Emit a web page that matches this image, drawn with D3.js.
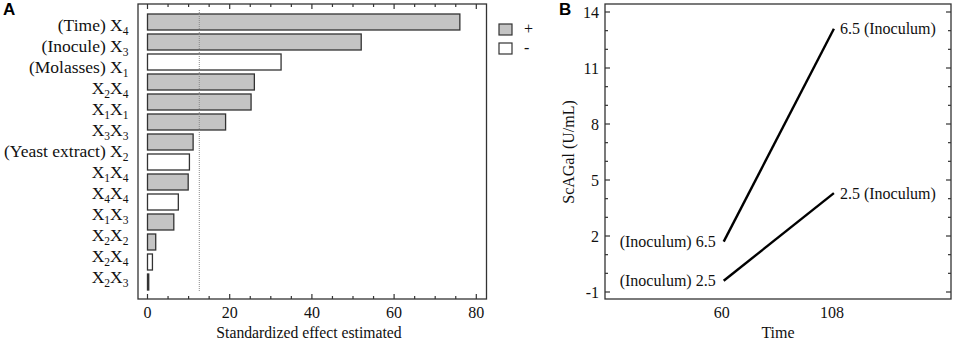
<!DOCTYPE html>
<html><head><meta charset="utf-8">
<script src="https://cdn.jsdelivr.net/npm/d3@7"></script>
<style>body{margin:0;background:#fff}svg{display:block}</style>
</head><body>
<svg id="c" width="957" height="343"></svg>
<script>
// ---------- Data: panel A (Pareto chart) ----------
const effectLabels = ["(Time) X4","(Inocule) X3","(Molasses) X1","X2X4","X1X1","X3X3","(Yeast extract) X2","X1X4","X4X4","X1X3","X2X2","X2X4","X2X3"];
const effectValues = [76.0, 52.0, 32.5, 26.0, 25.2, 19.0, 11.1, 10.2, 9.9, 7.5, 6.4, 2.0, 1.2, 0.3];
const effectSigns  = ["+","+","-","+","+","+","+","-","+","-","+","+","-","+"];
const xTicksA = [0, 20, 40, 60, 80];
const refLine = 12.6;
const legendItems = ["+","-"];

// ---------- Data: panel B (interaction plot) ----------
const timeTicks = [60, 108];
const seriesNames = ["6.5", "2.5"];
const series65 = [1.7, 13.1];
const series25 = [-0.4, 4.3];
const yTicksB = [-1, 2, 5, 8, 11, 14];

const svg = d3.select("#c");
const serif = "'Liberation Serif','Times New Roman',serif";
const sans = "'Liberation Sans',Arial,sans-serif";
const dark = "#333";
const txt = "#111";

function subText(sel, str, mainSize, subSize, shift) {
  const parts = str.split(/X(\d)/);
  let pending = 0;
  parts.forEach((p, i) => {
    if (i % 2 === 0) {
      const t = p + (i < parts.length - 1 ? "X" : "");
      if (t) { sel.append("tspan").attr("font-size", mainSize).attr("dy", pending).text(t); pending = 0; }
    } else {
      sel.append("tspan").attr("font-size", subSize).attr("dy", shift + pending).text(p);
      pending = -shift;
    }
  });
}

// ================= Panel A =================
const A = {l: 138, r: 486.5, t: 4, b: 299};
const x = d3.scaleLinear().domain([0, 80]).range([147.5, 476.3]);
const yBar = d3.scaleBand().domain(d3.range(effectValues.length)).range([12, 292]).paddingInner(0.2).paddingOuter(0.1);
const yLab = d3.scalePoint().domain(effectLabels.map((d, i) => i)).range([26, 278]);

const gA = svg.append("g");
gA.selectAll("rect.bar").data(effectValues).join("rect")
  .attr("x", x(0))
  .attr("y", (d, i) => yBar(i))
  .attr("width", d => x(d) - x(0))
  .attr("height", yBar.bandwidth())
  .attr("fill", (d, i) => effectSigns[i] === "+" ? "#c4c4c4" : "#fff")
  .attr("stroke", dark).attr("stroke-width", 1.3);

gA.append("line").attr("x1", x(refLine)).attr("x2", x(refLine))
  .attr("y1", 10).attr("y2", 292)
  .attr("stroke", "#8a8a8a").attr("stroke-width", 1).attr("stroke-dasharray", "1,1");

gA.append("rect").attr("x", A.l).attr("y", A.t).attr("width", A.r - A.l).attr("height", A.b - A.t)
  .attr("fill", "none").attr("stroke", dark).attr("stroke-width", 1.3);

d3.range(0, 81, 5).forEach(v => {
  const len = v % 20 === 0 ? 5 : 3;
  gA.append("line").attr("x1", x(v)).attr("x2", x(v)).attr("y1", A.b).attr("y2", A.b - len).attr("stroke", dark).attr("stroke-width", 1.2);
  gA.append("line").attr("x1", x(v)).attr("x2", x(v)).attr("y1", A.t).attr("y2", A.t + len).attr("stroke", dark).attr("stroke-width", 1.2);
});
gA.selectAll("text.xt").data(xTicksA).join("text")
  .attr("x", d => x(d)).attr("y", 318).attr("text-anchor", "middle")
  .attr("font-family", serif).attr("font-size", 16).attr("fill", txt).text(d => d);
gA.append("text").attr("x", 309).attr("y", 338).attr("text-anchor", "middle")
  .attr("font-family", serif).attr("font-size", 15.7).attr("fill", txt).text("Standardized effect estimated");

effectLabels.forEach((lab, i) => {
  const t = gA.append("text").attr("x", 128.5).attr("y", yLab(i) + 5).attr("text-anchor", "end")
    .attr("font-family", serif).attr("fill", txt).attr("font-size", 17.5);
  subText(t, lab, 17.5, 11.5, 4);
});

legendItems.forEach((s, i) => {
  const yy = 24 + i * 19;
  gA.append("rect").attr("x", 499).attr("y", yy).attr("width", 13).attr("height", 11)
    .attr("fill", s === "+" ? "#c4c4c4" : "#fff").attr("stroke", dark).attr("stroke-width", 1.2);
  gA.append("text").attr("x", 524).attr("y", yy + 10).attr("font-family", serif).attr("font-size", 16)
    .attr("fill", txt).text(s);
});

svg.append("text").attr("x", 3).attr("y", 15).attr("font-family", sans).attr("font-weight", "bold")
  .attr("font-size", 17).text("A");

// ================= Panel B =================
const B = {l: 605, r: 951, t: 4, b: 299};
const xb = d3.scaleLinear().domain([8.3, 159]).range([B.l, B.r]);
const yb = d3.scaleLinear().domain([-1, 14]).range([292, 12]);
const gB = svg.append("g");
gB.append("rect").attr("x", B.l).attr("y", B.t).attr("width", B.r - B.l).attr("height", B.b - B.t)
  .attr("fill", "none").attr("stroke", dark).attr("stroke-width", 1.3);
d3.range(-1, 15).forEach(v => {
  const len = yTicksB.includes(v) ? 5 : 3;
  gB.append("line").attr("x1", B.l).attr("x2", B.l + len).attr("y1", yb(v)).attr("y2", yb(v)).attr("stroke", dark).attr("stroke-width", 1.2);
  gB.append("line").attr("x1", B.r).attr("x2", B.r - len).attr("y1", yb(v)).attr("y2", yb(v)).attr("stroke", dark).attr("stroke-width", 1.2);
});
gB.selectAll("text.yt").data(yTicksB).join("text")
  .attr("x", 599).attr("y", d => yb(d) + 5.5).attr("text-anchor", "end")
  .attr("font-family", serif).attr("font-size", 16).attr("fill", txt).text(d => d);
gB.selectAll("text.xt").data(timeTicks).join("text")
  .attr("x", d => xb(d) - 2).attr("y", 318).attr("text-anchor", "middle")
  .attr("font-family", serif).attr("font-size", 16).attr("fill", txt).text(d => d);
gB.append("text").attr("x", 778).attr("y", 338).attr("text-anchor", "middle")
  .attr("font-family", serif).attr("font-size", 16).attr("fill", txt).text("Time");
gB.append("text").attr("transform", `translate(574,${(yb(-1) + yb(14)) / 2}) rotate(-90)`)
  .attr("text-anchor", "middle").attr("font-family", serif).attr("font-size", 16).attr("fill", txt)
  .text("ScAGal (U/mL)");

const line = d3.line().x((d, i) => xb(timeTicks[i])).y(d => yb(d));
[series65, series25].forEach((s, k) => {
  gB.append("path").attr("d", line(s)).attr("fill", "none").attr("stroke", "#000").attr("stroke-width", 2.4);
  gB.append("text").attr("x", xb(timeTicks[0]) - 8).attr("y", yb(s[0]) + 5.5).attr("text-anchor", "end")
    .attr("font-family", serif).attr("font-size", 16).attr("fill", txt).text("(Inoculum) " + seriesNames[k]);
  gB.append("text").attr("x", xb(timeTicks[1]) + 6).attr("y", yb(s[1]) + 5.5).attr("text-anchor", "start")
    .attr("font-family", serif).attr("font-size", 16).attr("fill", txt).text(seriesNames[k] + " (Inoculum)");
});
svg.append("text").attr("x", 559).attr("y", 15).attr("font-family", sans).attr("font-weight", "bold")
  .attr("font-size", 17).text("B");
</script>
</body></html>
